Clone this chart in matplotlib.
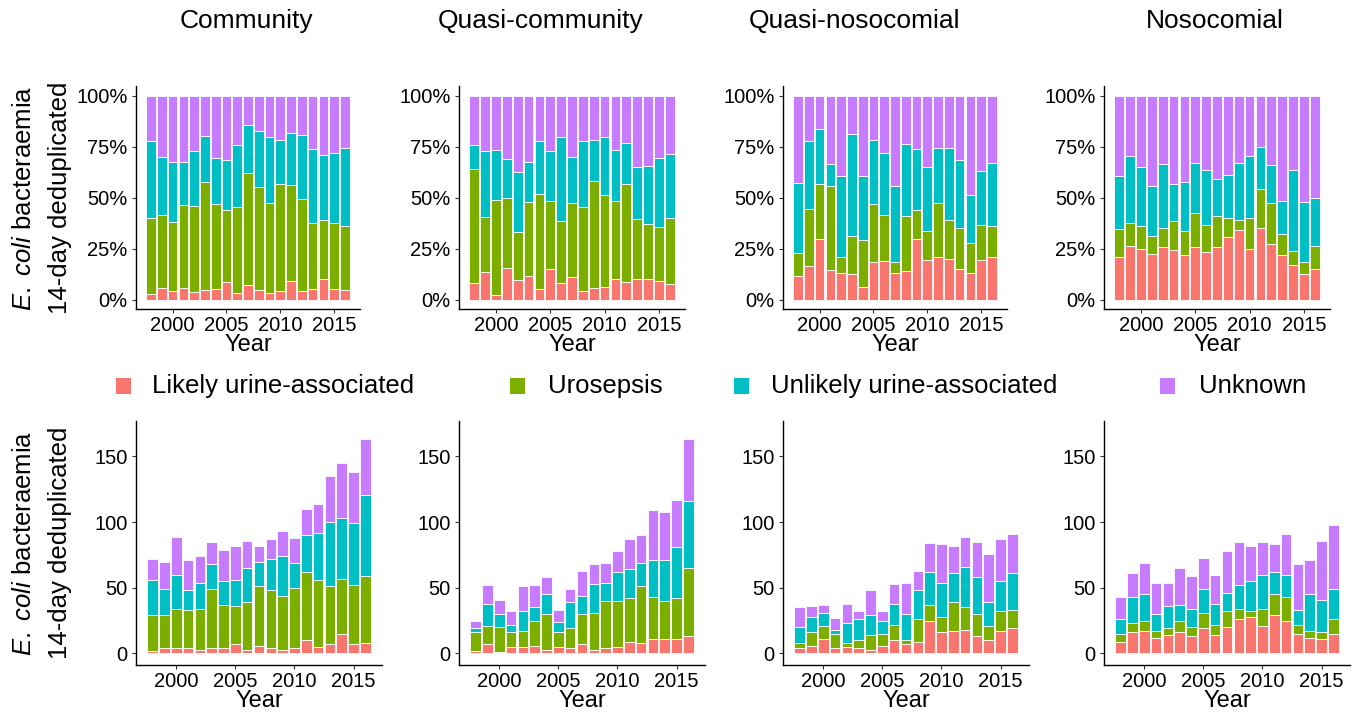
import matplotlib
matplotlib.use("Agg")
import matplotlib.pyplot as plt
from matplotlib.patches import Rectangle
import numpy as np

plt.rcParams['font.family'] = ['Liberation Sans', 'DejaVu Sans']
plt.rcParams['mathtext.fontset'] = 'custom'
plt.rcParams['mathtext.rm'] = 'Liberation Sans'
plt.rcParams['mathtext.it'] = 'Liberation Sans:italic'

# data: yearly counts of E. coli bacteraemia by setting and source
years = list(range(1998, 2017))
settings = ["Community", "Quasi-community", "Quasi-nosocomial", "Nosocomial"]
categories = ["Likely urine-associated", "Urosepsis", "Unlikely urine-associated", "Unknown"]
colours = ["#F8766D", "#7CAE00", "#00BFC4", "#C77CFF"]

community_likely = [2, 4, 4, 4, 3, 4, 4, 7, 3, 6, 4, 3, 4, 10, 5, 7, 15, 7, 8]
community_urosepsis = [27, 25, 30, 29, 31, 45, 33, 29, 36, 45, 44, 41, 46, 52, 51, 44, 42, 45, 51]
community_unlikely = [27, 20, 26, 15, 20, 19, 18, 20, 26, 19, 24, 30, 19, 28, 36, 49, 46, 47, 62]
community_unknown = [16, 21, 29, 23, 20, 17, 24, 26, 21, 12, 15, 19, 19, 20, 22, 35, 42, 39, 42]

quasi_comm_likely = [2, 7, 1, 5, 5, 6, 3, 5, 4, 7, 3, 4, 5, 9, 8, 11, 11, 11, 13]
quasi_comm_urosepsis = [14, 14, 19, 11, 12, 19, 27, 11, 15, 23, 28, 36, 35, 33, 43, 32, 29, 31, 52]
quasi_comm_unlikely = [3, 17, 10, 6, 15, 10, 15, 8, 20, 14, 22, 14, 22, 22, 18, 28, 31, 39, 51]
quasi_comm_unknown = [6, 14, 11, 10, 19, 17, 13, 9, 10, 19, 15, 15, 16, 23, 21, 38, 37, 36, 47]

quasi_noso_likely = [4, 6, 11, 4, 5, 4, 3, 6, 10, 7, 9, 25, 16, 17, 18, 13, 10, 17, 19]
quasi_noso_urosepsis = [4, 10, 10, 11, 3, 6, 11, 9, 12, 3, 17, 12, 12, 22, 17, 17, 11, 15, 14]
quasi_noso_unlikely = [12, 12, 10, 3, 15, 16, 15, 10, 16, 20, 22, 25, 26, 22, 31, 28, 18, 23, 28]
quasi_noso_unknown = [15, 8, 6, 9, 15, 6, 19, 7, 15, 24, 15, 22, 29, 21, 23, 27, 37, 32, 30]

nosocomial_likely = [9, 16, 17, 12, 14, 16, 13, 19, 14, 20, 26, 28, 21, 29, 25, 15, 12, 11, 15]
nosocomial_urosepsis = [6, 7, 8, 5, 5, 9, 7, 12, 8, 12, 8, 4, 13, 16, 18, 7, 5, 5, 11]
nosocomial_unlikely = [11, 20, 20, 13, 17, 12, 14, 18, 16, 14, 18, 23, 26, 17, 17, 11, 28, 25, 23]
nosocomial_unknown = [17, 18, 24, 24, 18, 28, 25, 24, 22, 32, 33, 27, 25, 21, 31, 35, 26, 45, 49]

counts = {
    "Community": [community_likely, community_urosepsis, community_unlikely, community_unknown],
    "Quasi-community": [quasi_comm_likely, quasi_comm_urosepsis, quasi_comm_unlikely, quasi_comm_unknown],
    "Quasi-nosocomial": [quasi_noso_likely, quasi_noso_urosepsis, quasi_noso_unlikely, quasi_noso_unknown],
    "Nosocomial": [nosocomial_likely, nosocomial_urosepsis, nosocomial_unlikely, nosocomial_unknown],
}

W, H = 1366, 713
fig = plt.figure(figsize=(W / 100, H / 100), dpi=100)


def fx(px):
    return px / W


def fy(py):
    return 1 - py / H


def style_axis(ax):
    for s in ["top", "right"]:
        ax.spines[s].set_visible(False)
    for s in ["left", "bottom"]:
        ax.spines[s].set_linewidth(1.0)
        ax.spines[s].set_color("black")
    ax.tick_params(axis="both", length=3, width=0.8, color="#333333",
                   labelsize=14.5, labelcolor="black", pad=3)
    ax.tick_params(axis="x", pad=2)
    ax.set_xlim(1996.6, 2017.4)
    ax.set_xticks([2000, 2005, 2010, 2015])
    ax.set_xlabel("Year", fontsize=17, labelpad=-1)


lefts = [136, 459, 783, 1104]
top_rights = [360, 685, 1007, 1330]
bot_rights = [382, 705, 1029, 1350]
title_x = [246, 541, 855, 1215]

for j, name in enumerate(settings):
    data = np.array(counts[name], dtype=float)
    totals = data.sum(axis=0)
    props = data / totals

    # proportions
    ax = fig.add_axes([fx(lefts[j]), fy(309), fx(top_rights[j] - lefts[j]), (309 - 86) / H])
    bottom = np.zeros(len(years))
    for k in range(4):
        ax.bar(years, props[k], bottom=bottom, width=0.9, color=colours[k],
               edgecolor="white", linewidth=0.6)
        bottom += props[k]
    ax.set_ylim(-0.045, 1.047)
    ax.set_yticks([0, 0.25, 0.5, 0.75, 1.0])
    ax.set_yticklabels(["0%", "25%", "50%", "75%", "100%"])
    style_axis(ax)

    # counts
    ax2 = fig.add_axes([fx(lefts[j]), fy(665), fx(bot_rights[j] - lefts[j]), (665 - 421) / H])
    bottom = np.zeros(len(years))
    for k in range(4):
        ax2.bar(years, data[k], bottom=bottom, width=0.9, color=colours[k],
                edgecolor="white", linewidth=0.6)
        bottom += data[k]
    ax2.set_ylim(-8.8, 177)
    ax2.set_yticks([0, 50, 100, 150])
    style_axis(ax2)

    fig.text(fx(title_x[j]), fy(21), name, ha="center", va="center", fontsize=19)

# y axis titles
for cy in [198, 543]:
    fig.text(fx(24), fy(cy), r"$\mathit{E.\ coli}$ bacteraemia", rotation=90,
             ha="center", va="center", fontsize=18.5)
    fig.text(fx(60), fy(cy), "14-day deduplicated", rotation=90,
             ha="center", va="center", fontsize=18.5)

# legend
key_x = [116, 510, 734, 1160]
text_x = [152, 548, 771, 1199]
for k in range(4):
    fig.patches.append(Rectangle((fx(key_x[k]), fy(394)), fx(15), 16 / H,
                                 transform=fig.transFigure, facecolor=colours[k],
                                 edgecolor="none"))
    fig.text(fx(text_x[k]), fy(386), categories[k], ha="left", va="center", fontsize=18.5)

fig.savefig("out.png", dpi=100)
